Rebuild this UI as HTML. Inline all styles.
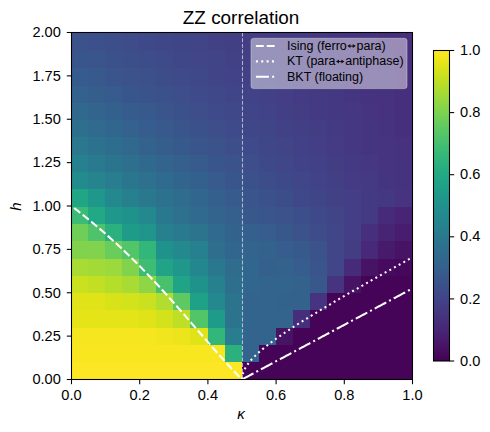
<!DOCTYPE html><html><head><meta charset="utf-8"><style>html,body{margin:0;padding:0;background:#fff;}svg{display:block;}text{font-family:"Liberation Sans",sans-serif;fill:#000;}</style></head><body>
<svg width="490" height="432" viewBox="0 0 490 432">
<rect width="490" height="432" fill="#fff"/>
<g shape-rendering="crispEdges">
<rect x="71.10" y="362.00" width="17.35" height="17.60" fill="#fde725"/>
<rect x="88.15" y="362.00" width="17.35" height="17.60" fill="#fde725"/>
<rect x="105.20" y="362.00" width="17.35" height="17.60" fill="#fde725"/>
<rect x="122.25" y="362.00" width="17.35" height="17.60" fill="#fde725"/>
<rect x="139.30" y="362.00" width="17.35" height="17.60" fill="#fde725"/>
<rect x="156.35" y="362.00" width="17.35" height="17.60" fill="#fde725"/>
<rect x="173.40" y="362.00" width="17.35" height="17.60" fill="#fde725"/>
<rect x="190.45" y="362.00" width="17.35" height="17.60" fill="#fde725"/>
<rect x="207.50" y="362.00" width="17.35" height="17.60" fill="#fde725"/>
<rect x="224.55" y="362.00" width="17.35" height="17.60" fill="#fde725"/>
<rect x="241.60" y="362.00" width="17.35" height="17.60" fill="#450457"/>
<rect x="258.65" y="362.00" width="17.35" height="17.60" fill="#450457"/>
<rect x="275.70" y="362.00" width="17.35" height="17.60" fill="#450457"/>
<rect x="292.75" y="362.00" width="17.35" height="17.60" fill="#450457"/>
<rect x="309.80" y="362.00" width="17.35" height="17.60" fill="#450457"/>
<rect x="326.85" y="362.00" width="17.35" height="17.60" fill="#450457"/>
<rect x="343.90" y="362.00" width="17.35" height="17.60" fill="#450457"/>
<rect x="360.95" y="362.00" width="17.35" height="17.60" fill="#450457"/>
<rect x="378.00" y="362.00" width="17.35" height="17.60" fill="#450457"/>
<rect x="395.05" y="362.00" width="17.35" height="17.60" fill="#450457"/>
<rect x="71.10" y="344.70" width="17.35" height="17.60" fill="#f8e621"/>
<rect x="88.15" y="344.70" width="17.35" height="17.60" fill="#f8e621"/>
<rect x="105.20" y="344.70" width="17.35" height="17.60" fill="#f8e621"/>
<rect x="122.25" y="344.70" width="17.35" height="17.60" fill="#f8e621"/>
<rect x="139.30" y="344.70" width="17.35" height="17.60" fill="#f8e621"/>
<rect x="156.35" y="344.70" width="17.35" height="17.60" fill="#f8e621"/>
<rect x="173.40" y="344.70" width="17.35" height="17.60" fill="#f8e621"/>
<rect x="190.45" y="344.70" width="17.35" height="17.60" fill="#f8e621"/>
<rect x="207.50" y="344.70" width="17.35" height="17.60" fill="#f8e621"/>
<rect x="224.55" y="344.70" width="17.35" height="17.60" fill="#2cb17e"/>
<rect x="241.60" y="344.70" width="17.35" height="17.60" fill="#32648e"/>
<rect x="258.65" y="344.70" width="17.35" height="17.60" fill="#450457"/>
<rect x="275.70" y="344.70" width="17.35" height="17.60" fill="#450457"/>
<rect x="292.75" y="344.70" width="17.35" height="17.60" fill="#450457"/>
<rect x="309.80" y="344.70" width="17.35" height="17.60" fill="#450457"/>
<rect x="326.85" y="344.70" width="17.35" height="17.60" fill="#450457"/>
<rect x="343.90" y="344.70" width="17.35" height="17.60" fill="#450457"/>
<rect x="360.95" y="344.70" width="17.35" height="17.60" fill="#450457"/>
<rect x="378.00" y="344.70" width="17.35" height="17.60" fill="#450457"/>
<rect x="395.05" y="344.70" width="17.35" height="17.60" fill="#450457"/>
<rect x="71.10" y="327.40" width="17.35" height="17.60" fill="#f6e620"/>
<rect x="88.15" y="327.40" width="17.35" height="17.60" fill="#f6e620"/>
<rect x="105.20" y="327.40" width="17.35" height="17.60" fill="#f6e620"/>
<rect x="122.25" y="327.40" width="17.35" height="17.60" fill="#f6e620"/>
<rect x="139.30" y="327.40" width="17.35" height="17.60" fill="#f6e620"/>
<rect x="156.35" y="327.40" width="17.35" height="17.60" fill="#f1e51d"/>
<rect x="173.40" y="327.40" width="17.35" height="17.60" fill="#ece51b"/>
<rect x="190.45" y="327.40" width="17.35" height="17.60" fill="#dfe318"/>
<rect x="207.50" y="327.40" width="17.35" height="17.60" fill="#32b67a"/>
<rect x="224.55" y="327.40" width="17.35" height="17.60" fill="#287d8e"/>
<rect x="241.60" y="327.40" width="17.35" height="17.60" fill="#32648e"/>
<rect x="258.65" y="327.40" width="17.35" height="17.60" fill="#32648e"/>
<rect x="275.70" y="327.40" width="17.35" height="17.60" fill="#471365"/>
<rect x="292.75" y="327.40" width="17.35" height="17.60" fill="#450457"/>
<rect x="309.80" y="327.40" width="17.35" height="17.60" fill="#450457"/>
<rect x="326.85" y="327.40" width="17.35" height="17.60" fill="#450457"/>
<rect x="343.90" y="327.40" width="17.35" height="17.60" fill="#450457"/>
<rect x="360.95" y="327.40" width="17.35" height="17.60" fill="#450457"/>
<rect x="378.00" y="327.40" width="17.35" height="17.60" fill="#450457"/>
<rect x="395.05" y="327.40" width="17.35" height="17.60" fill="#450457"/>
<rect x="71.10" y="310.10" width="17.35" height="17.60" fill="#e5e419"/>
<rect x="88.15" y="310.10" width="17.35" height="17.60" fill="#e5e419"/>
<rect x="105.20" y="310.10" width="17.35" height="17.60" fill="#e5e419"/>
<rect x="122.25" y="310.10" width="17.35" height="17.60" fill="#e5e419"/>
<rect x="139.30" y="310.10" width="17.35" height="17.60" fill="#dfe318"/>
<rect x="156.35" y="310.10" width="17.35" height="17.60" fill="#d2e21b"/>
<rect x="173.40" y="310.10" width="17.35" height="17.60" fill="#bddf26"/>
<rect x="190.45" y="310.10" width="17.35" height="17.60" fill="#52c569"/>
<rect x="207.50" y="310.10" width="17.35" height="17.60" fill="#1e9c89"/>
<rect x="224.55" y="310.10" width="17.35" height="17.60" fill="#2c738e"/>
<rect x="241.60" y="310.10" width="17.35" height="17.60" fill="#32658e"/>
<rect x="258.65" y="310.10" width="17.35" height="17.60" fill="#32648e"/>
<rect x="275.70" y="310.10" width="17.35" height="17.60" fill="#32648e"/>
<rect x="292.75" y="310.10" width="17.35" height="17.60" fill="#472e7c"/>
<rect x="309.80" y="310.10" width="17.35" height="17.60" fill="#450457"/>
<rect x="326.85" y="310.10" width="17.35" height="17.60" fill="#450457"/>
<rect x="343.90" y="310.10" width="17.35" height="17.60" fill="#450457"/>
<rect x="360.95" y="310.10" width="17.35" height="17.60" fill="#450457"/>
<rect x="378.00" y="310.10" width="17.35" height="17.60" fill="#450457"/>
<rect x="395.05" y="310.10" width="17.35" height="17.60" fill="#450457"/>
<rect x="71.10" y="292.80" width="17.35" height="17.60" fill="#dfe318"/>
<rect x="88.15" y="292.80" width="17.35" height="17.60" fill="#dfe318"/>
<rect x="105.20" y="292.80" width="17.35" height="17.60" fill="#d8e219"/>
<rect x="122.25" y="292.80" width="17.35" height="17.60" fill="#d2e21b"/>
<rect x="139.30" y="292.80" width="17.35" height="17.60" fill="#cae11f"/>
<rect x="156.35" y="292.80" width="17.35" height="17.60" fill="#b0dd2f"/>
<rect x="173.40" y="292.80" width="17.35" height="17.60" fill="#5ec962"/>
<rect x="190.45" y="292.80" width="17.35" height="17.60" fill="#1fa188"/>
<rect x="207.50" y="292.80" width="17.35" height="17.60" fill="#23898e"/>
<rect x="224.55" y="292.80" width="17.35" height="17.60" fill="#2c738e"/>
<rect x="241.60" y="292.80" width="17.35" height="17.60" fill="#32648e"/>
<rect x="258.65" y="292.80" width="17.35" height="17.60" fill="#32648e"/>
<rect x="275.70" y="292.80" width="17.35" height="17.60" fill="#33638d"/>
<rect x="292.75" y="292.80" width="17.35" height="17.60" fill="#33628d"/>
<rect x="309.80" y="292.80" width="17.35" height="17.60" fill="#463480"/>
<rect x="326.85" y="292.80" width="17.35" height="17.60" fill="#450457"/>
<rect x="343.90" y="292.80" width="17.35" height="17.60" fill="#450457"/>
<rect x="360.95" y="292.80" width="17.35" height="17.60" fill="#450457"/>
<rect x="378.00" y="292.80" width="17.35" height="17.60" fill="#450457"/>
<rect x="395.05" y="292.80" width="17.35" height="17.60" fill="#450457"/>
<rect x="71.10" y="275.50" width="17.35" height="17.60" fill="#cae11f"/>
<rect x="88.15" y="275.50" width="17.35" height="17.60" fill="#c2df23"/>
<rect x="105.20" y="275.50" width="17.35" height="17.60" fill="#b5de2b"/>
<rect x="122.25" y="275.50" width="17.35" height="17.60" fill="#a8db34"/>
<rect x="139.30" y="275.50" width="17.35" height="17.60" fill="#8ed645"/>
<rect x="156.35" y="275.50" width="17.35" height="17.60" fill="#48c16e"/>
<rect x="173.40" y="275.50" width="17.35" height="17.60" fill="#20a386"/>
<rect x="190.45" y="275.50" width="17.35" height="17.60" fill="#20928c"/>
<rect x="207.50" y="275.50" width="17.35" height="17.60" fill="#27808e"/>
<rect x="224.55" y="275.50" width="17.35" height="17.60" fill="#2e6f8e"/>
<rect x="241.60" y="275.50" width="17.35" height="17.60" fill="#31678e"/>
<rect x="258.65" y="275.50" width="17.35" height="17.60" fill="#32648e"/>
<rect x="275.70" y="275.50" width="17.35" height="17.60" fill="#32648e"/>
<rect x="292.75" y="275.50" width="17.35" height="17.60" fill="#33628d"/>
<rect x="309.80" y="275.50" width="17.35" height="17.60" fill="#38588c"/>
<rect x="326.85" y="275.50" width="17.35" height="17.60" fill="#463480"/>
<rect x="343.90" y="275.50" width="17.35" height="17.60" fill="#471365"/>
<rect x="360.95" y="275.50" width="17.35" height="17.60" fill="#450457"/>
<rect x="378.00" y="275.50" width="17.35" height="17.60" fill="#450457"/>
<rect x="395.05" y="275.50" width="17.35" height="17.60" fill="#450457"/>
<rect x="71.10" y="258.20" width="17.35" height="17.60" fill="#a8db34"/>
<rect x="88.15" y="258.20" width="17.35" height="17.60" fill="#a2da37"/>
<rect x="105.20" y="258.20" width="17.35" height="17.60" fill="#9bd93c"/>
<rect x="122.25" y="258.20" width="17.35" height="17.60" fill="#81d34d"/>
<rect x="139.30" y="258.20" width="17.35" height="17.60" fill="#3fbc73"/>
<rect x="156.35" y="258.20" width="17.35" height="17.60" fill="#20a386"/>
<rect x="173.40" y="258.20" width="17.35" height="17.60" fill="#1f978b"/>
<rect x="190.45" y="258.20" width="17.35" height="17.60" fill="#24868e"/>
<rect x="207.50" y="258.20" width="17.35" height="17.60" fill="#2a788e"/>
<rect x="224.55" y="258.20" width="17.35" height="17.60" fill="#2f6c8e"/>
<rect x="241.60" y="258.20" width="17.35" height="17.60" fill="#31678e"/>
<rect x="258.65" y="258.20" width="17.35" height="17.60" fill="#355f8d"/>
<rect x="275.70" y="258.20" width="17.35" height="17.60" fill="#33628d"/>
<rect x="292.75" y="258.20" width="17.35" height="17.60" fill="#365d8d"/>
<rect x="309.80" y="258.20" width="17.35" height="17.60" fill="#3a548c"/>
<rect x="326.85" y="258.20" width="17.35" height="17.60" fill="#404688"/>
<rect x="343.90" y="258.20" width="17.35" height="17.60" fill="#472a7a"/>
<rect x="360.95" y="258.20" width="17.35" height="17.60" fill="#471365"/>
<rect x="378.00" y="258.20" width="17.35" height="17.60" fill="#460b5e"/>
<rect x="395.05" y="258.20" width="17.35" height="17.60" fill="#46085c"/>
<rect x="71.10" y="240.90" width="17.35" height="17.60" fill="#81d34d"/>
<rect x="88.15" y="240.90" width="17.35" height="17.60" fill="#81d34d"/>
<rect x="105.20" y="240.90" width="17.35" height="17.60" fill="#69cd5b"/>
<rect x="122.25" y="240.90" width="17.35" height="17.60" fill="#52c569"/>
<rect x="139.30" y="240.90" width="17.35" height="17.60" fill="#32b67a"/>
<rect x="156.35" y="240.90" width="17.35" height="17.60" fill="#20928c"/>
<rect x="173.40" y="240.90" width="17.35" height="17.60" fill="#23898e"/>
<rect x="190.45" y="240.90" width="17.35" height="17.60" fill="#27808e"/>
<rect x="207.50" y="240.90" width="17.35" height="17.60" fill="#2e6f8e"/>
<rect x="224.55" y="240.90" width="17.35" height="17.60" fill="#31678e"/>
<rect x="241.60" y="240.90" width="17.35" height="17.60" fill="#32648e"/>
<rect x="258.65" y="240.90" width="17.35" height="17.60" fill="#33628d"/>
<rect x="275.70" y="240.90" width="17.35" height="17.60" fill="#365d8d"/>
<rect x="292.75" y="240.90" width="17.35" height="17.60" fill="#375a8c"/>
<rect x="309.80" y="240.90" width="17.35" height="17.60" fill="#3b528b"/>
<rect x="326.85" y="240.90" width="17.35" height="17.60" fill="#404688"/>
<rect x="343.90" y="240.90" width="17.35" height="17.60" fill="#433d84"/>
<rect x="360.95" y="240.90" width="17.35" height="17.60" fill="#482878"/>
<rect x="378.00" y="240.90" width="17.35" height="17.60" fill="#481a6c"/>
<rect x="395.05" y="240.90" width="17.35" height="17.60" fill="#471365"/>
<rect x="71.10" y="223.60" width="17.35" height="17.60" fill="#6ece58"/>
<rect x="88.15" y="223.60" width="17.35" height="17.60" fill="#4ec36b"/>
<rect x="105.20" y="223.60" width="17.35" height="17.60" fill="#2cb17e"/>
<rect x="122.25" y="223.60" width="17.35" height="17.60" fill="#1e9c89"/>
<rect x="139.30" y="223.60" width="17.35" height="17.60" fill="#1f958b"/>
<rect x="156.35" y="223.60" width="17.35" height="17.60" fill="#27808e"/>
<rect x="173.40" y="223.60" width="17.35" height="17.60" fill="#297a8e"/>
<rect x="190.45" y="223.60" width="17.35" height="17.60" fill="#2c738e"/>
<rect x="207.50" y="223.60" width="17.35" height="17.60" fill="#306a8e"/>
<rect x="224.55" y="223.60" width="17.35" height="17.60" fill="#33628d"/>
<rect x="241.60" y="223.60" width="17.35" height="17.60" fill="#355f8d"/>
<rect x="258.65" y="223.60" width="17.35" height="17.60" fill="#365d8d"/>
<rect x="275.70" y="223.60" width="17.35" height="17.60" fill="#38588c"/>
<rect x="292.75" y="223.60" width="17.35" height="17.60" fill="#3b528b"/>
<rect x="309.80" y="223.60" width="17.35" height="17.60" fill="#3e4c8a"/>
<rect x="326.85" y="223.60" width="17.35" height="17.60" fill="#404688"/>
<rect x="343.90" y="223.60" width="17.35" height="17.60" fill="#433e85"/>
<rect x="360.95" y="223.60" width="17.35" height="17.60" fill="#46307e"/>
<rect x="378.00" y="223.60" width="17.35" height="17.60" fill="#482475"/>
<rect x="395.05" y="223.60" width="17.35" height="17.60" fill="#481d6f"/>
<rect x="71.10" y="206.30" width="17.35" height="17.60" fill="#3bbb75"/>
<rect x="88.15" y="206.30" width="17.35" height="17.60" fill="#22a884"/>
<rect x="105.20" y="206.30" width="17.35" height="17.60" fill="#1f978b"/>
<rect x="122.25" y="206.30" width="17.35" height="17.60" fill="#20928c"/>
<rect x="139.30" y="206.30" width="17.35" height="17.60" fill="#23898e"/>
<rect x="156.35" y="206.30" width="17.35" height="17.60" fill="#2a788e"/>
<rect x="173.40" y="206.30" width="17.35" height="17.60" fill="#2d718e"/>
<rect x="190.45" y="206.30" width="17.35" height="17.60" fill="#306a8e"/>
<rect x="207.50" y="206.30" width="17.35" height="17.60" fill="#32648e"/>
<rect x="224.55" y="206.30" width="17.35" height="17.60" fill="#355f8d"/>
<rect x="241.60" y="206.30" width="17.35" height="17.60" fill="#38588c"/>
<rect x="258.65" y="206.30" width="17.35" height="17.60" fill="#3a548c"/>
<rect x="275.70" y="206.30" width="17.35" height="17.60" fill="#3b528b"/>
<rect x="292.75" y="206.30" width="17.35" height="17.60" fill="#3c4f8a"/>
<rect x="309.80" y="206.30" width="17.35" height="17.60" fill="#3e4989"/>
<rect x="326.85" y="206.30" width="17.35" height="17.60" fill="#414487"/>
<rect x="343.90" y="206.30" width="17.35" height="17.60" fill="#433e85"/>
<rect x="360.95" y="206.30" width="17.35" height="17.60" fill="#443983"/>
<rect x="378.00" y="206.30" width="17.35" height="17.60" fill="#472a7a"/>
<rect x="395.05" y="206.30" width="17.35" height="17.60" fill="#482475"/>
<rect x="71.10" y="189.00" width="17.35" height="17.60" fill="#21a685"/>
<rect x="88.15" y="189.00" width="17.35" height="17.60" fill="#1f978b"/>
<rect x="105.20" y="189.00" width="17.35" height="17.60" fill="#23898e"/>
<rect x="122.25" y="189.00" width="17.35" height="17.60" fill="#27808e"/>
<rect x="139.30" y="189.00" width="17.35" height="17.60" fill="#2a788e"/>
<rect x="156.35" y="189.00" width="17.35" height="17.60" fill="#2c728e"/>
<rect x="173.40" y="189.00" width="17.35" height="17.60" fill="#2f6c8e"/>
<rect x="190.45" y="189.00" width="17.35" height="17.60" fill="#31668e"/>
<rect x="207.50" y="189.00" width="17.35" height="17.60" fill="#34608d"/>
<rect x="224.55" y="189.00" width="17.35" height="17.60" fill="#375b8d"/>
<rect x="241.60" y="189.00" width="17.35" height="17.60" fill="#39558c"/>
<rect x="258.65" y="189.00" width="17.35" height="17.60" fill="#3b518b"/>
<rect x="275.70" y="189.00" width="17.35" height="17.60" fill="#3d4d8a"/>
<rect x="292.75" y="189.00" width="17.35" height="17.60" fill="#3f4889"/>
<rect x="309.80" y="189.00" width="17.35" height="17.60" fill="#404588"/>
<rect x="326.85" y="189.00" width="17.35" height="17.60" fill="#424186"/>
<rect x="343.90" y="189.00" width="17.35" height="17.60" fill="#433e85"/>
<rect x="360.95" y="189.00" width="17.35" height="17.60" fill="#443a83"/>
<rect x="378.00" y="189.00" width="17.35" height="17.60" fill="#453882"/>
<rect x="395.05" y="189.00" width="17.35" height="17.60" fill="#463480"/>
<rect x="71.10" y="171.70" width="17.35" height="17.60" fill="#228c8d"/>
<rect x="88.15" y="171.70" width="17.35" height="17.60" fill="#25848e"/>
<rect x="105.20" y="171.70" width="17.35" height="17.60" fill="#287d8e"/>
<rect x="122.25" y="171.70" width="17.35" height="17.60" fill="#2a768e"/>
<rect x="139.30" y="171.70" width="17.35" height="17.60" fill="#2d718e"/>
<rect x="156.35" y="171.70" width="17.35" height="17.60" fill="#2f6b8e"/>
<rect x="173.40" y="171.70" width="17.35" height="17.60" fill="#32658e"/>
<rect x="190.45" y="171.70" width="17.35" height="17.60" fill="#34608d"/>
<rect x="207.50" y="171.70" width="17.35" height="17.60" fill="#375b8d"/>
<rect x="224.55" y="171.70" width="17.35" height="17.60" fill="#39568c"/>
<rect x="241.60" y="171.70" width="17.35" height="17.60" fill="#3b518b"/>
<rect x="258.65" y="171.70" width="17.35" height="17.60" fill="#3d4d8a"/>
<rect x="275.70" y="171.70" width="17.35" height="17.60" fill="#3e4989"/>
<rect x="292.75" y="171.70" width="17.35" height="17.60" fill="#404688"/>
<rect x="309.80" y="171.70" width="17.35" height="17.60" fill="#414287"/>
<rect x="326.85" y="171.70" width="17.35" height="17.60" fill="#423f85"/>
<rect x="343.90" y="171.70" width="17.35" height="17.60" fill="#443b84"/>
<rect x="360.95" y="171.70" width="17.35" height="17.60" fill="#443983"/>
<rect x="378.00" y="171.70" width="17.35" height="17.60" fill="#453581"/>
<rect x="395.05" y="171.70" width="17.35" height="17.60" fill="#46337f"/>
<rect x="71.10" y="154.40" width="17.35" height="17.60" fill="#26818e"/>
<rect x="88.15" y="154.40" width="17.35" height="17.60" fill="#297a8e"/>
<rect x="105.20" y="154.40" width="17.35" height="17.60" fill="#2b748e"/>
<rect x="122.25" y="154.40" width="17.35" height="17.60" fill="#2e6f8e"/>
<rect x="139.30" y="154.40" width="17.35" height="17.60" fill="#30698e"/>
<rect x="156.35" y="154.40" width="17.35" height="17.60" fill="#32648e"/>
<rect x="173.40" y="154.40" width="17.35" height="17.60" fill="#355f8d"/>
<rect x="190.45" y="154.40" width="17.35" height="17.60" fill="#375b8d"/>
<rect x="207.50" y="154.40" width="17.35" height="17.60" fill="#39568c"/>
<rect x="224.55" y="154.40" width="17.35" height="17.60" fill="#3b528b"/>
<rect x="241.60" y="154.40" width="17.35" height="17.60" fill="#3d4e8a"/>
<rect x="258.65" y="154.40" width="17.35" height="17.60" fill="#3e4989"/>
<rect x="275.70" y="154.40" width="17.35" height="17.60" fill="#404688"/>
<rect x="292.75" y="154.40" width="17.35" height="17.60" fill="#414287"/>
<rect x="309.80" y="154.40" width="17.35" height="17.60" fill="#424086"/>
<rect x="326.85" y="154.40" width="17.35" height="17.60" fill="#433d84"/>
<rect x="343.90" y="154.40" width="17.35" height="17.60" fill="#443a83"/>
<rect x="360.95" y="154.40" width="17.35" height="17.60" fill="#453781"/>
<rect x="378.00" y="154.40" width="17.35" height="17.60" fill="#463480"/>
<rect x="395.05" y="154.40" width="17.35" height="17.60" fill="#46337f"/>
<rect x="71.10" y="137.10" width="17.35" height="17.60" fill="#2a778e"/>
<rect x="88.15" y="137.10" width="17.35" height="17.60" fill="#2c718e"/>
<rect x="105.20" y="137.10" width="17.35" height="17.60" fill="#2e6d8e"/>
<rect x="122.25" y="137.10" width="17.35" height="17.60" fill="#31688e"/>
<rect x="139.30" y="137.10" width="17.35" height="17.60" fill="#33638d"/>
<rect x="156.35" y="137.10" width="17.35" height="17.60" fill="#355e8d"/>
<rect x="173.40" y="137.10" width="17.35" height="17.60" fill="#375a8c"/>
<rect x="190.45" y="137.10" width="17.35" height="17.60" fill="#39558c"/>
<rect x="207.50" y="137.10" width="17.35" height="17.60" fill="#3b528b"/>
<rect x="224.55" y="137.10" width="17.35" height="17.60" fill="#3d4e8a"/>
<rect x="241.60" y="137.10" width="17.35" height="17.60" fill="#3e4a89"/>
<rect x="258.65" y="137.10" width="17.35" height="17.60" fill="#3f4788"/>
<rect x="275.70" y="137.10" width="17.35" height="17.60" fill="#414487"/>
<rect x="292.75" y="137.10" width="17.35" height="17.60" fill="#424086"/>
<rect x="309.80" y="137.10" width="17.35" height="17.60" fill="#433e85"/>
<rect x="326.85" y="137.10" width="17.35" height="17.60" fill="#443b84"/>
<rect x="343.90" y="137.10" width="17.35" height="17.60" fill="#453882"/>
<rect x="360.95" y="137.10" width="17.35" height="17.60" fill="#453581"/>
<rect x="378.00" y="137.10" width="17.35" height="17.60" fill="#463480"/>
<rect x="395.05" y="137.10" width="17.35" height="17.60" fill="#46327e"/>
<rect x="71.10" y="119.80" width="17.35" height="17.60" fill="#2e6f8e"/>
<rect x="88.15" y="119.80" width="17.35" height="17.60" fill="#306a8e"/>
<rect x="105.20" y="119.80" width="17.35" height="17.60" fill="#31668e"/>
<rect x="122.25" y="119.80" width="17.35" height="17.60" fill="#34618d"/>
<rect x="139.30" y="119.80" width="17.35" height="17.60" fill="#365d8d"/>
<rect x="156.35" y="119.80" width="17.35" height="17.60" fill="#38598c"/>
<rect x="173.40" y="119.80" width="17.35" height="17.60" fill="#39558c"/>
<rect x="190.45" y="119.80" width="17.35" height="17.60" fill="#3b518b"/>
<rect x="207.50" y="119.80" width="17.35" height="17.60" fill="#3d4e8a"/>
<rect x="224.55" y="119.80" width="17.35" height="17.60" fill="#3e4a89"/>
<rect x="241.60" y="119.80" width="17.35" height="17.60" fill="#3f4788"/>
<rect x="258.65" y="119.80" width="17.35" height="17.60" fill="#404588"/>
<rect x="275.70" y="119.80" width="17.35" height="17.60" fill="#424186"/>
<rect x="292.75" y="119.80" width="17.35" height="17.60" fill="#423f85"/>
<rect x="309.80" y="119.80" width="17.35" height="17.60" fill="#433d84"/>
<rect x="326.85" y="119.80" width="17.35" height="17.60" fill="#443983"/>
<rect x="343.90" y="119.80" width="17.35" height="17.60" fill="#453781"/>
<rect x="360.95" y="119.80" width="17.35" height="17.60" fill="#453581"/>
<rect x="378.00" y="119.80" width="17.35" height="17.60" fill="#46337f"/>
<rect x="395.05" y="119.80" width="17.35" height="17.60" fill="#46307e"/>
<rect x="71.10" y="102.50" width="17.35" height="17.60" fill="#31688e"/>
<rect x="88.15" y="102.50" width="17.35" height="17.60" fill="#32648e"/>
<rect x="105.20" y="102.50" width="17.35" height="17.60" fill="#34608d"/>
<rect x="122.25" y="102.50" width="17.35" height="17.60" fill="#365c8d"/>
<rect x="139.30" y="102.50" width="17.35" height="17.60" fill="#38598c"/>
<rect x="156.35" y="102.50" width="17.35" height="17.60" fill="#3a548c"/>
<rect x="173.40" y="102.50" width="17.35" height="17.60" fill="#3b518b"/>
<rect x="190.45" y="102.50" width="17.35" height="17.60" fill="#3d4e8a"/>
<rect x="207.50" y="102.50" width="17.35" height="17.60" fill="#3e4a89"/>
<rect x="224.55" y="102.50" width="17.35" height="17.60" fill="#3f4889"/>
<rect x="241.60" y="102.50" width="17.35" height="17.60" fill="#404588"/>
<rect x="258.65" y="102.50" width="17.35" height="17.60" fill="#414287"/>
<rect x="275.70" y="102.50" width="17.35" height="17.60" fill="#423f85"/>
<rect x="292.75" y="102.50" width="17.35" height="17.60" fill="#433d84"/>
<rect x="309.80" y="102.50" width="17.35" height="17.60" fill="#443a83"/>
<rect x="326.85" y="102.50" width="17.35" height="17.60" fill="#453882"/>
<rect x="343.90" y="102.50" width="17.35" height="17.60" fill="#453781"/>
<rect x="360.95" y="102.50" width="17.35" height="17.60" fill="#463480"/>
<rect x="378.00" y="102.50" width="17.35" height="17.60" fill="#46327e"/>
<rect x="395.05" y="102.50" width="17.35" height="17.60" fill="#46307e"/>
<rect x="71.10" y="85.20" width="17.35" height="17.60" fill="#34618d"/>
<rect x="88.15" y="85.20" width="17.35" height="17.60" fill="#355e8d"/>
<rect x="105.20" y="85.20" width="17.35" height="17.60" fill="#375b8d"/>
<rect x="122.25" y="85.20" width="17.35" height="17.60" fill="#39568c"/>
<rect x="139.30" y="85.20" width="17.35" height="17.60" fill="#3a538b"/>
<rect x="156.35" y="85.20" width="17.35" height="17.60" fill="#3b518b"/>
<rect x="173.40" y="85.20" width="17.35" height="17.60" fill="#3d4e8a"/>
<rect x="190.45" y="85.20" width="17.35" height="17.60" fill="#3e4a89"/>
<rect x="207.50" y="85.20" width="17.35" height="17.60" fill="#3f4889"/>
<rect x="224.55" y="85.20" width="17.35" height="17.60" fill="#404588"/>
<rect x="241.60" y="85.20" width="17.35" height="17.60" fill="#414287"/>
<rect x="258.65" y="85.20" width="17.35" height="17.60" fill="#424086"/>
<rect x="275.70" y="85.20" width="17.35" height="17.60" fill="#433e85"/>
<rect x="292.75" y="85.20" width="17.35" height="17.60" fill="#443b84"/>
<rect x="309.80" y="85.20" width="17.35" height="17.60" fill="#443983"/>
<rect x="326.85" y="85.20" width="17.35" height="17.60" fill="#453882"/>
<rect x="343.90" y="85.20" width="17.35" height="17.60" fill="#453581"/>
<rect x="360.95" y="85.20" width="17.35" height="17.60" fill="#46337f"/>
<rect x="378.00" y="85.20" width="17.35" height="17.60" fill="#46327e"/>
<rect x="395.05" y="85.20" width="17.35" height="17.60" fill="#46307e"/>
<rect x="71.10" y="67.90" width="17.35" height="17.60" fill="#365c8d"/>
<rect x="88.15" y="67.90" width="17.35" height="17.60" fill="#38598c"/>
<rect x="105.20" y="67.90" width="17.35" height="17.60" fill="#39558c"/>
<rect x="122.25" y="67.90" width="17.35" height="17.60" fill="#3b528b"/>
<rect x="139.30" y="67.90" width="17.35" height="17.60" fill="#3c508b"/>
<rect x="156.35" y="67.90" width="17.35" height="17.60" fill="#3d4d8a"/>
<rect x="173.40" y="67.90" width="17.35" height="17.60" fill="#3e4a89"/>
<rect x="190.45" y="67.90" width="17.35" height="17.60" fill="#3f4889"/>
<rect x="207.50" y="67.90" width="17.35" height="17.60" fill="#404588"/>
<rect x="224.55" y="67.90" width="17.35" height="17.60" fill="#414287"/>
<rect x="241.60" y="67.90" width="17.35" height="17.60" fill="#424086"/>
<rect x="258.65" y="67.90" width="17.35" height="17.60" fill="#423f85"/>
<rect x="275.70" y="67.90" width="17.35" height="17.60" fill="#433d84"/>
<rect x="292.75" y="67.90" width="17.35" height="17.60" fill="#443a83"/>
<rect x="309.80" y="67.90" width="17.35" height="17.60" fill="#453882"/>
<rect x="326.85" y="67.90" width="17.35" height="17.60" fill="#453781"/>
<rect x="343.90" y="67.90" width="17.35" height="17.60" fill="#463480"/>
<rect x="360.95" y="67.90" width="17.35" height="17.60" fill="#46337f"/>
<rect x="378.00" y="67.90" width="17.35" height="17.60" fill="#46327e"/>
<rect x="395.05" y="67.90" width="17.35" height="17.60" fill="#472f7d"/>
<rect x="71.10" y="50.60" width="17.35" height="17.60" fill="#39568c"/>
<rect x="88.15" y="50.60" width="17.35" height="17.60" fill="#3a548c"/>
<rect x="105.20" y="50.60" width="17.35" height="17.60" fill="#3b518b"/>
<rect x="122.25" y="50.60" width="17.35" height="17.60" fill="#3c4f8a"/>
<rect x="139.30" y="50.60" width="17.35" height="17.60" fill="#3d4d8a"/>
<rect x="156.35" y="50.60" width="17.35" height="17.60" fill="#3e4a89"/>
<rect x="173.40" y="50.60" width="17.35" height="17.60" fill="#3f4788"/>
<rect x="190.45" y="50.60" width="17.35" height="17.60" fill="#404688"/>
<rect x="207.50" y="50.60" width="17.35" height="17.60" fill="#414487"/>
<rect x="224.55" y="50.60" width="17.35" height="17.60" fill="#424186"/>
<rect x="241.60" y="50.60" width="17.35" height="17.60" fill="#423f85"/>
<rect x="258.65" y="50.60" width="17.35" height="17.60" fill="#433d84"/>
<rect x="275.70" y="50.60" width="17.35" height="17.60" fill="#443b84"/>
<rect x="292.75" y="50.60" width="17.35" height="17.60" fill="#443983"/>
<rect x="309.80" y="50.60" width="17.35" height="17.60" fill="#453882"/>
<rect x="326.85" y="50.60" width="17.35" height="17.60" fill="#453581"/>
<rect x="343.90" y="50.60" width="17.35" height="17.60" fill="#463480"/>
<rect x="360.95" y="50.60" width="17.35" height="17.60" fill="#46337f"/>
<rect x="378.00" y="50.60" width="17.35" height="17.60" fill="#46327e"/>
<rect x="395.05" y="50.60" width="17.35" height="17.60" fill="#472f7d"/>
<rect x="71.10" y="33.30" width="17.35" height="17.60" fill="#3b528b"/>
<rect x="88.15" y="33.30" width="17.35" height="17.60" fill="#3c508b"/>
<rect x="105.20" y="33.30" width="17.35" height="17.60" fill="#3d4e8a"/>
<rect x="122.25" y="33.30" width="17.35" height="17.60" fill="#3e4c8a"/>
<rect x="139.30" y="33.30" width="17.35" height="17.60" fill="#3e4989"/>
<rect x="156.35" y="33.30" width="17.35" height="17.60" fill="#3f4788"/>
<rect x="173.40" y="33.30" width="17.35" height="17.60" fill="#404588"/>
<rect x="190.45" y="33.30" width="17.35" height="17.60" fill="#414487"/>
<rect x="207.50" y="33.30" width="17.35" height="17.60" fill="#424186"/>
<rect x="224.55" y="33.30" width="17.35" height="17.60" fill="#423f85"/>
<rect x="241.60" y="33.30" width="17.35" height="17.60" fill="#433e85"/>
<rect x="258.65" y="33.30" width="17.35" height="17.60" fill="#443b84"/>
<rect x="275.70" y="33.30" width="17.35" height="17.60" fill="#443a83"/>
<rect x="292.75" y="33.30" width="17.35" height="17.60" fill="#443983"/>
<rect x="309.80" y="33.30" width="17.35" height="17.60" fill="#453781"/>
<rect x="326.85" y="33.30" width="17.35" height="17.60" fill="#453581"/>
<rect x="343.90" y="33.30" width="17.35" height="17.60" fill="#463480"/>
<rect x="360.95" y="33.30" width="17.35" height="17.60" fill="#46337f"/>
<rect x="378.00" y="33.30" width="17.35" height="17.60" fill="#46307e"/>
<rect x="395.05" y="33.30" width="17.35" height="17.60" fill="#472f7d"/>
</g>
<line x1="242.5" y1="32.50" x2="242.5" y2="379.50" stroke="#fff" stroke-opacity="0.6" stroke-width="1.07" stroke-dasharray="3.95 1.75"/>
<polyline points="71.53,206.03 72.39,206.68 73.25,207.34 74.10,208.00 74.96,208.66 75.82,209.32 76.67,209.99 77.53,210.66 78.39,211.33 79.24,212.00 80.10,212.68 80.96,213.35 81.81,214.03 82.67,214.72 83.53,215.40 84.38,216.09 85.24,216.78 86.10,217.47 86.95,218.16 87.81,218.86 88.67,219.56 89.52,220.26 90.38,220.97 91.24,221.67 92.09,222.38 92.95,223.09 93.81,223.81 94.66,224.53 95.52,225.25 96.38,225.97 97.23,226.69 98.09,227.42 98.95,228.15 99.80,228.88 100.66,229.62 101.52,230.36 102.37,231.10 103.23,231.84 104.09,232.59 104.94,233.34 105.80,234.09 106.66,234.84 107.51,235.60 108.37,236.36 109.23,237.12 110.08,237.89 110.94,238.66 111.79,239.43 112.65,240.20 113.51,240.98 114.36,241.76 115.22,242.54 116.08,243.33 116.93,244.11 117.79,244.91 118.65,245.70 119.50,246.50 120.36,247.30 121.22,248.10 122.07,248.91 122.93,249.71 123.79,250.53 124.64,251.34 125.50,252.16 126.36,252.98 127.21,253.80 128.07,254.63 128.93,255.46 129.78,256.29 130.64,257.13 131.50,257.96 132.35,258.81 133.21,259.65 134.07,260.50 134.92,261.35 135.78,262.20 136.64,263.06 137.49,263.92 138.35,264.78 139.21,265.64 140.06,266.51 140.92,267.38 141.78,268.25 142.63,269.13 143.49,270.01 144.35,270.89 145.20,271.78 146.06,272.67 146.92,273.56 147.77,274.45 148.63,275.35 149.49,276.25 150.34,277.15 151.20,278.06 152.06,278.96 152.91,279.87 153.77,280.79 154.63,281.70 155.48,282.62 156.34,283.54 157.20,284.47 158.05,285.39 158.91,286.32 159.77,287.25 160.62,288.19 161.48,289.12 162.34,290.06 163.19,291.00 164.05,291.95 164.90,292.89 165.76,293.84 166.62,294.79 167.47,295.75 168.33,296.70 169.19,297.66 170.04,298.62 170.90,299.58 171.76,300.54 172.61,301.50 173.47,302.47 174.33,303.44 175.18,304.41 176.04,305.38 176.90,306.35 177.75,307.33 178.61,308.31 179.47,309.28 180.32,310.26 181.18,311.24 182.04,312.23 182.89,313.21 183.75,314.19 184.61,315.18 185.46,316.17 186.32,317.15 187.18,318.14 188.03,319.13 188.89,320.12 189.75,321.11 190.60,322.10 191.46,323.09 192.32,324.09 193.17,325.08 194.03,326.07 194.89,327.06 195.74,328.06 196.60,329.05 197.46,330.04 198.31,331.04 199.17,332.03 200.03,333.02 200.88,334.01 201.74,335.01 202.60,336.00 203.45,336.99 204.31,337.98 205.17,338.96 206.02,339.95 206.88,340.94 207.74,341.93 208.59,342.91 209.45,343.89 210.31,344.88 211.16,345.86 212.02,346.84 212.88,347.81 213.73,348.79 214.59,349.76 215.45,350.74 216.30,351.71 217.16,352.67 218.01,353.64 218.87,354.61 219.73,355.57 220.58,356.53 221.44,357.48 222.30,358.44 223.15,359.39 224.01,360.34 224.87,361.28 225.72,362.23 226.58,363.17 227.44,364.11 228.29,365.04 229.15,365.97 230.01,366.90 230.86,367.82 231.72,368.74 232.58,369.66 233.43,370.58 234.29,371.49 235.15,372.39 236.00,373.29 236.86,374.19 237.72,375.09 238.57,375.98 239.43,376.87 240.29,377.75 241.14,378.63 242.00,379.50" fill="none" stroke="#fff" stroke-width="2.05" stroke-dasharray="7.8 3.1" stroke-dashoffset="7.6"/>
<polyline points="242.00,379.50 242.86,373.71 243.71,371.28 244.57,369.40 245.43,367.81 246.28,366.38 247.14,365.09 248.00,363.89 248.85,362.76 249.71,361.69 250.57,360.67 251.42,359.69 252.28,358.75 253.14,357.84 253.99,356.96 254.85,356.10 255.71,355.27 256.57,354.45 257.42,353.65 258.28,352.87 259.14,352.10 259.99,351.34 260.85,350.60 261.71,349.87 262.56,349.15 263.42,348.44 264.28,347.74 265.13,347.05 265.99,346.36 266.85,345.68 267.70,345.02 268.56,344.35 269.42,343.70 270.27,343.05 271.13,342.40 271.99,341.76 272.84,341.13 273.70,340.50 274.56,339.88 275.41,339.26 276.27,338.64 277.13,338.03 277.98,337.42 278.84,336.82 279.70,336.22 280.56,335.62 281.41,335.03 282.27,334.44 283.13,333.85 283.98,333.27 284.84,332.69 285.70,332.11 286.55,331.53 287.41,330.96 288.27,330.39 289.12,329.82 289.98,329.25 290.84,328.69 291.69,328.13 292.55,327.57 293.41,327.01 294.26,326.45 295.12,325.90 295.98,325.34 296.83,324.79 297.69,324.24 298.55,323.70 299.40,323.15 300.26,322.61 301.12,322.06 301.97,321.52 302.83,320.98 303.69,320.44 304.55,319.91 305.40,319.37 306.26,318.84 307.12,318.30 307.97,317.77 308.83,317.24 309.69,316.71 310.54,316.18 311.40,315.65 312.26,315.13 313.11,314.60 313.97,314.08 314.83,313.55 315.68,313.03 316.54,312.51 317.40,311.99 318.25,311.47 319.11,310.95 319.97,310.43 320.82,309.92 321.68,309.40 322.54,308.88 323.39,308.37 324.25,307.86 325.11,307.34 325.96,306.83 326.82,306.32 327.68,305.81 328.54,305.30 329.39,304.79 330.25,304.28 331.11,303.77 331.96,303.26 332.82,302.76 333.68,302.25 334.53,301.74 335.39,301.24 336.25,300.73 337.10,300.23 337.96,299.73 338.82,299.22 339.67,298.72 340.53,298.22 341.39,297.72 342.24,297.22 343.10,296.72 343.96,296.22 344.81,295.72 345.67,295.22 346.53,294.72 347.38,294.22 348.24,293.72 349.10,293.23 349.95,292.73 350.81,292.23 351.67,291.74 352.53,291.24 353.38,290.75 354.24,290.25 355.10,289.76 355.95,289.27 356.81,288.77 357.67,288.28 358.52,287.79 359.38,287.29 360.24,286.80 361.09,286.31 361.95,285.82 362.81,285.33 363.66,284.84 364.52,284.35 365.38,283.86 366.23,283.37 367.09,282.88 367.95,282.39 368.80,281.90 369.66,281.41 370.52,280.92 371.37,280.44 372.23,279.95 373.09,279.46 373.94,278.97 374.80,278.49 375.66,278.00 376.52,277.51 377.37,277.03 378.23,276.54 379.09,276.06 379.94,275.57 380.80,275.09 381.66,274.60 382.51,274.12 383.37,273.63 384.23,273.15 385.08,272.67 385.94,272.18 386.80,271.70 387.65,271.22 388.51,270.73 389.37,270.25 390.22,269.77 391.08,269.29 391.94,268.81 392.79,268.32 393.65,267.84 394.51,267.36 395.36,266.88 396.22,266.40 397.08,265.92 397.93,265.44 398.79,264.96 399.65,264.48 400.51,264.00 401.36,263.52 402.22,263.04 403.08,262.56 403.93,262.08 404.79,261.60 405.65,261.12 406.50,260.64 407.36,260.16 408.22,259.68 409.07,259.21 409.93,258.73 410.79,258.25 411.64,257.77 412.50,257.29" fill="none" stroke="#fff" stroke-width="2.05" stroke-dasharray="2.0 3.35"/>
<polyline points="242.00,379.50 242.86,379.04 243.71,378.58 244.57,378.13 245.43,377.67 246.28,377.21 247.14,376.75 248.00,376.30 248.85,375.84 249.71,375.38 250.57,374.92 251.42,374.47 252.28,374.01 253.14,373.55 253.99,373.09 254.85,372.63 255.71,372.18 256.57,371.72 257.42,371.26 258.28,370.80 259.14,370.35 259.99,369.89 260.85,369.43 261.71,368.97 262.56,368.51 263.42,368.06 264.28,367.60 265.13,367.14 265.99,366.68 266.85,366.23 267.70,365.77 268.56,365.31 269.42,364.85 270.27,364.40 271.13,363.94 271.99,363.48 272.84,363.02 273.70,362.56 274.56,362.11 275.41,361.65 276.27,361.19 277.13,360.73 277.98,360.28 278.84,359.82 279.70,359.36 280.56,358.90 281.41,358.44 282.27,357.99 283.13,357.53 283.98,357.07 284.84,356.61 285.70,356.16 286.55,355.70 287.41,355.24 288.27,354.78 289.12,354.33 289.98,353.87 290.84,353.41 291.69,352.95 292.55,352.49 293.41,352.04 294.26,351.58 295.12,351.12 295.98,350.66 296.83,350.21 297.69,349.75 298.55,349.29 299.40,348.83 300.26,348.37 301.12,347.92 301.97,347.46 302.83,347.00 303.69,346.54 304.55,346.09 305.40,345.63 306.26,345.17 307.12,344.71 307.97,344.26 308.83,343.80 309.69,343.34 310.54,342.88 311.40,342.42 312.26,341.97 313.11,341.51 313.97,341.05 314.83,340.59 315.68,340.14 316.54,339.68 317.40,339.22 318.25,338.76 319.11,338.30 319.97,337.85 320.82,337.39 321.68,336.93 322.54,336.47 323.39,336.02 324.25,335.56 325.11,335.10 325.96,334.64 326.82,334.19 327.68,333.73 328.54,333.27 329.39,332.81 330.25,332.35 331.11,331.90 331.96,331.44 332.82,330.98 333.68,330.52 334.53,330.07 335.39,329.61 336.25,329.15 337.10,328.69 337.96,328.23 338.82,327.78 339.67,327.32 340.53,326.86 341.39,326.40 342.24,325.95 343.10,325.49 343.96,325.03 344.81,324.57 345.67,324.12 346.53,323.66 347.38,323.20 348.24,322.74 349.10,322.28 349.95,321.83 350.81,321.37 351.67,320.91 352.53,320.45 353.38,320.00 354.24,319.54 355.10,319.08 355.95,318.62 356.81,318.16 357.67,317.71 358.52,317.25 359.38,316.79 360.24,316.33 361.09,315.88 361.95,315.42 362.81,314.96 363.66,314.50 364.52,314.05 365.38,313.59 366.23,313.13 367.09,312.67 367.95,312.21 368.80,311.76 369.66,311.30 370.52,310.84 371.37,310.38 372.23,309.93 373.09,309.47 373.94,309.01 374.80,308.55 375.66,308.09 376.52,307.64 377.37,307.18 378.23,306.72 379.09,306.26 379.94,305.81 380.80,305.35 381.66,304.89 382.51,304.43 383.37,303.98 384.23,303.52 385.08,303.06 385.94,302.60 386.80,302.14 387.65,301.69 388.51,301.23 389.37,300.77 390.22,300.31 391.08,299.86 391.94,299.40 392.79,298.94 393.65,298.48 394.51,298.02 395.36,297.57 396.22,297.11 397.08,296.65 397.93,296.19 398.79,295.74 399.65,295.28 400.51,294.82 401.36,294.36 402.22,293.91 403.08,293.45 403.93,292.99 404.79,292.53 405.65,292.07 406.50,291.62 407.36,291.16 408.22,290.70 409.07,290.24 409.93,289.79 410.79,289.33 411.64,288.87 412.50,288.41" fill="none" stroke="#fff" stroke-width="2.05" stroke-dasharray="13 3.25 2 3.25"/>
<rect x="71.50" y="32.50" width="341.00" height="347.00" fill="none" stroke="#000" stroke-width="1.07"/>
<line x1="71.50" y1="379.50" x2="71.50" y2="384.20" stroke="#000" stroke-width="1.07"/>
<text x="71.50" y="399.9" font-size="14.6" text-anchor="middle">0.0</text>
<line x1="139.70" y1="379.50" x2="139.70" y2="384.20" stroke="#000" stroke-width="1.07"/>
<text x="139.70" y="399.9" font-size="14.6" text-anchor="middle">0.2</text>
<line x1="207.90" y1="379.50" x2="207.90" y2="384.20" stroke="#000" stroke-width="1.07"/>
<text x="207.90" y="399.9" font-size="14.6" text-anchor="middle">0.4</text>
<line x1="276.10" y1="379.50" x2="276.10" y2="384.20" stroke="#000" stroke-width="1.07"/>
<text x="276.10" y="399.9" font-size="14.6" text-anchor="middle">0.6</text>
<line x1="344.30" y1="379.50" x2="344.30" y2="384.20" stroke="#000" stroke-width="1.07"/>
<text x="344.30" y="399.9" font-size="14.6" text-anchor="middle">0.8</text>
<line x1="412.50" y1="379.50" x2="412.50" y2="384.20" stroke="#000" stroke-width="1.07"/>
<text x="412.50" y="399.9" font-size="14.6" text-anchor="middle">1.0</text>
<line x1="66.80" y1="379.50" x2="71.50" y2="379.50" stroke="#000" stroke-width="1.07"/>
<text x="60.8" y="384.30" font-size="14.6" text-anchor="end">0.00</text>
<line x1="66.80" y1="336.12" x2="71.50" y2="336.12" stroke="#000" stroke-width="1.07"/>
<text x="60.8" y="340.93" font-size="14.6" text-anchor="end">0.25</text>
<line x1="66.80" y1="292.75" x2="71.50" y2="292.75" stroke="#000" stroke-width="1.07"/>
<text x="60.8" y="297.55" font-size="14.6" text-anchor="end">0.50</text>
<line x1="66.80" y1="249.38" x2="71.50" y2="249.38" stroke="#000" stroke-width="1.07"/>
<text x="60.8" y="254.18" font-size="14.6" text-anchor="end">0.75</text>
<line x1="66.80" y1="206.00" x2="71.50" y2="206.00" stroke="#000" stroke-width="1.07"/>
<text x="60.8" y="210.80" font-size="14.6" text-anchor="end">1.00</text>
<line x1="66.80" y1="162.62" x2="71.50" y2="162.62" stroke="#000" stroke-width="1.07"/>
<text x="60.8" y="167.43" font-size="14.6" text-anchor="end">1.25</text>
<line x1="66.80" y1="119.25" x2="71.50" y2="119.25" stroke="#000" stroke-width="1.07"/>
<text x="60.8" y="124.05" font-size="14.6" text-anchor="end">1.50</text>
<line x1="66.80" y1="75.88" x2="71.50" y2="75.88" stroke="#000" stroke-width="1.07"/>
<text x="60.8" y="80.67" font-size="14.6" text-anchor="end">1.75</text>
<line x1="66.80" y1="32.50" x2="71.50" y2="32.50" stroke="#000" stroke-width="1.07"/>
<text x="60.8" y="37.30" font-size="14.6" text-anchor="end">2.00</text>
<text x="241" y="418.7" font-size="15" font-style="italic" text-anchor="middle">κ</text>
<text x="0" y="0" font-size="15" font-style="italic" text-anchor="middle" transform="translate(21.1,206.6) rotate(-90)">h</text>
<text x="241.1" y="23.9" font-size="18.9" text-anchor="middle">ZZ correlation</text>
<rect x="251" y="38.3" width="156" height="50.3" rx="2.5" ry="2.5" fill="#fff" fill-opacity="0.45" stroke="#d0d0d0" stroke-opacity="0.5" stroke-width="1"/>
<line x1="255.9" y1="45.90" x2="274.8" y2="45.90" stroke="#fff" stroke-width="2.05" stroke-dasharray="7.8 3.1"/>
<line x1="255.9" y1="61.35" x2="274.8" y2="61.35" stroke="#fff" stroke-width="2.05" stroke-dasharray="2.0 3.35"/>
<line x1="255.9" y1="76.80" x2="274.8" y2="76.80" stroke="#fff" stroke-width="2.05" stroke-dasharray="13 3.25 2 3.25"/>
<text x="287.00" y="49.80" font-size="12.5" fill="#111">Ising (ferro</text>
<path d="M348.84 46.10 L354.24 46.10" stroke="#111" stroke-width="1.0"/><path d="M347.34 46.10 L350.34 44.10 L350.34 48.10 Z M355.74 46.10 L352.74 44.10 L352.74 48.10 Z" fill="#111"/>
<text x="356.54" y="49.80" font-size="12.5" fill="#111">para)</text>
<text x="287.00" y="65.25" font-size="12.5" fill="#111">KT (para</text>
<path d="M337.50 61.55 L342.90 61.55" stroke="#111" stroke-width="1.0"/><path d="M336.00 61.55 L339.00 59.55 L339.00 63.55 Z M344.40 61.55 L341.40 59.55 L341.40 63.55 Z" fill="#111"/>
<text x="345.20" y="65.25" font-size="12.5" fill="#111">antiphase)</text>
<text x="287.00" y="80.70" font-size="12.5" fill="#111">BKT (floating)</text>
<defs><linearGradient id="vg" x1="0" y1="1" x2="0" y2="0">
<stop offset="0.0000" stop-color="#440154"/>
<stop offset="0.0312" stop-color="#470d60"/>
<stop offset="0.0625" stop-color="#48186a"/>
<stop offset="0.0938" stop-color="#482374"/>
<stop offset="0.1250" stop-color="#472d7b"/>
<stop offset="0.1562" stop-color="#453781"/>
<stop offset="0.1875" stop-color="#424086"/>
<stop offset="0.2188" stop-color="#3e4989"/>
<stop offset="0.2500" stop-color="#3b528b"/>
<stop offset="0.2812" stop-color="#375b8d"/>
<stop offset="0.3125" stop-color="#33638d"/>
<stop offset="0.3438" stop-color="#2f6b8e"/>
<stop offset="0.3750" stop-color="#2c728e"/>
<stop offset="0.4062" stop-color="#297a8e"/>
<stop offset="0.4375" stop-color="#26828e"/>
<stop offset="0.4688" stop-color="#23898e"/>
<stop offset="0.5000" stop-color="#21918c"/>
<stop offset="0.5312" stop-color="#1f988b"/>
<stop offset="0.5625" stop-color="#1fa088"/>
<stop offset="0.5938" stop-color="#22a785"/>
<stop offset="0.6250" stop-color="#28ae80"/>
<stop offset="0.6562" stop-color="#32b67a"/>
<stop offset="0.6875" stop-color="#3fbc73"/>
<stop offset="0.7188" stop-color="#4ec36b"/>
<stop offset="0.7500" stop-color="#5ec962"/>
<stop offset="0.7812" stop-color="#70cf57"/>
<stop offset="0.8125" stop-color="#84d44b"/>
<stop offset="0.8438" stop-color="#98d83e"/>
<stop offset="0.8750" stop-color="#addc30"/>
<stop offset="0.9062" stop-color="#c2df23"/>
<stop offset="0.9375" stop-color="#d8e219"/>
<stop offset="0.9688" stop-color="#ece51b"/>
<stop offset="1.0000" stop-color="#fde725"/>
</linearGradient></defs>
<rect x="433.50" y="50.50" width="16.00" height="310.50" fill="url(#vg)" stroke="#000" stroke-width="1.07"/>
<line x1="449.50" y1="361.00" x2="454.20" y2="361.00" stroke="#000" stroke-width="1.07"/>
<text x="460.1" y="365.60" font-size="14.6">0.0</text>
<line x1="449.50" y1="298.90" x2="454.20" y2="298.90" stroke="#000" stroke-width="1.07"/>
<text x="460.1" y="303.50" font-size="14.6">0.2</text>
<line x1="449.50" y1="236.80" x2="454.20" y2="236.80" stroke="#000" stroke-width="1.07"/>
<text x="460.1" y="241.40" font-size="14.6">0.4</text>
<line x1="449.50" y1="174.70" x2="454.20" y2="174.70" stroke="#000" stroke-width="1.07"/>
<text x="460.1" y="179.30" font-size="14.6">0.6</text>
<line x1="449.50" y1="112.60" x2="454.20" y2="112.60" stroke="#000" stroke-width="1.07"/>
<text x="460.1" y="117.20" font-size="14.6">0.8</text>
<line x1="449.50" y1="50.50" x2="454.20" y2="50.50" stroke="#000" stroke-width="1.07"/>
<text x="460.1" y="55.10" font-size="14.6">1.0</text>
</svg></body></html>
